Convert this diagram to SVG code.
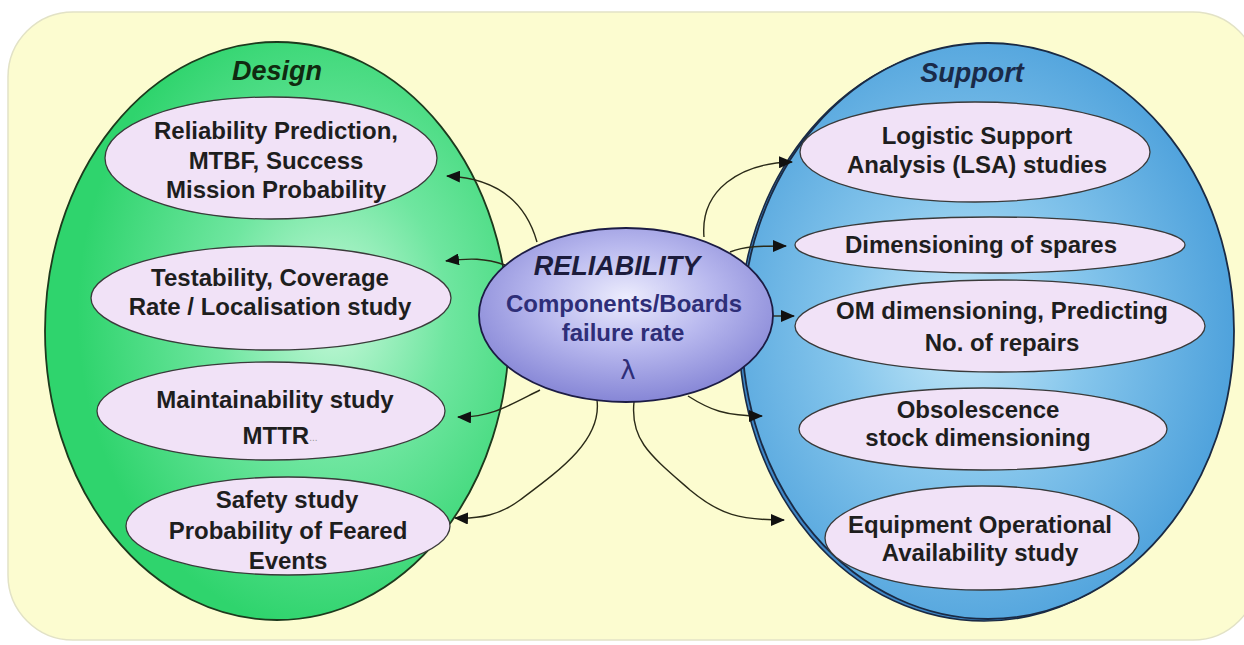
<svg xmlns="http://www.w3.org/2000/svg" width="1244" height="645" viewBox="0 0 1244 645">
<defs>
<radialGradient id="gGreen" cx="0.62" cy="0.47" r="0.55">
<stop offset="0" stop-color="#c6f8da"/>
<stop offset="0.45" stop-color="#6fe6a0"/>
<stop offset="1" stop-color="#2fd46d"/>
</radialGradient>
<radialGradient id="gBlue" cx="0.45" cy="0.5" r="0.55">
<stop offset="0" stop-color="#c4e8f8"/>
<stop offset="0.45" stop-color="#86c6ec"/>
<stop offset="1" stop-color="#4fa2dc"/>
</radialGradient>
<radialGradient id="gRel" cx="0.5" cy="0.4" r="0.6">
<stop offset="0" stop-color="#ececfd"/>
<stop offset="0.5" stop-color="#b8b8ee"/>
<stop offset="1" stop-color="#8686d6"/>
</radialGradient>
<marker id="arr" markerWidth="14" markerHeight="12" refX="13" refY="6" orient="auto" markerUnits="userSpaceOnUse">
<path d="M0,0 L14,6 L0,12 Z" fill="#111"/>
</marker>
<style>
.sub{fill:#f1e2f7;stroke:#3a3a3a;stroke-width:1.3}
.t{font-family:"Liberation Sans",Arial,sans-serif;font-weight:bold;font-size:24px;fill:#1e1e1e;text-anchor:middle;dominant-baseline:middle}
.h{font-family:"Liberation Sans",Arial,sans-serif;font-weight:bold;font-style:italic;font-size:27px;text-anchor:middle;dominant-baseline:middle}
.c{fill:none;stroke:#2a2a18;stroke-width:1.4;marker-end:url(#arr)}
.rel{font-family:"Liberation Sans",Arial,sans-serif;font-weight:bold;font-size:24px;fill:#2e2e78;text-anchor:middle;dominant-baseline:middle}
</style>
</defs>
<rect x="8" y="12" width="1250" height="628" rx="65" fill="#fcfcd0" stroke="#e2e2c6" stroke-width="1.5"/>
<g id="design">
<ellipse cx="277" cy="331" rx="232" ry="289" fill="url(#gGreen)" stroke="#1d3a1d" stroke-width="1.8"/>
<text class="h" x="277" y="73" fill="#102a10">Design</text>
</g>
<g id="support">
<ellipse cx="984" cy="333" rx="245" ry="288" fill="#3f86c6" stroke="#1a2a44" stroke-width="1.6"/>
<ellipse cx="988" cy="331" rx="246" ry="288" fill="url(#gBlue)" stroke="#1a2a44" stroke-width="1.8"/>
<text class="h" x="972" y="75" fill="#1a2a48">Support</text>
</g>
<g id="d1">
<ellipse class="sub" cx="271" cy="158" rx="166" ry="61"/>
<text class="t" x="276" y="133">Reliability Prediction,</text>
<text class="t" x="276" y="163">MTBF, Success</text>
<text class="t" x="276" y="192">Mission Probability</text>
</g>
<g id="d2">
<ellipse class="sub" cx="271" cy="298" rx="180" ry="52"/>
<text class="t" x="270" y="280">Testability, Coverage</text>
<text class="t" x="270" y="309">Rate / Localisation study</text>
</g>
<g id="d3">
<ellipse class="sub" cx="271" cy="411" rx="174" ry="49"/>
<text class="t" x="275" y="402">Maintainability study</text>
<text class="t" x="280" y="438">MTTR<tspan font-size="10" fill="#999" font-weight="normal">...</tspan></text>
</g>
<g id="d4">
<ellipse class="sub" cx="288" cy="526" rx="162" ry="49"/>
<text class="t" x="287" y="502">Safety study</text>
<text class="t" x="288" y="533">Probability of Feared</text>
<text class="t" x="288" y="563">Events</text>
</g>
<g id="s1">
<ellipse class="sub" cx="975" cy="152" rx="175" ry="50"/>
<text class="t" x="977" y="138">Logistic Support</text>
<text class="t" x="977" y="167">Analysis (LSA) studies</text>
</g>
<g id="s2">
<ellipse class="sub" cx="990" cy="245" rx="195" ry="28"/>
<text class="t" x="981" y="247">Dimensioning of spares</text>
</g>
<g id="s3">
<ellipse class="sub" cx="1000" cy="326" rx="205" ry="46"/>
<text class="t" x="1002" y="313">OM dimensioning, Predicting</text>
<text class="t" x="1002" y="345">No. of repairs</text>
</g>
<g id="s4">
<ellipse class="sub" cx="983" cy="429" rx="184" ry="41"/>
<text class="t" x="978" y="412">Obsolescence</text>
<text class="t" x="978" y="440">stock dimensioning</text>
</g>
<g id="s5">
<ellipse class="sub" cx="982" cy="538" rx="157" ry="52"/>
<text class="t" x="980" y="527">Equipment Operational</text>
<text class="t" x="980" y="555">Availability study</text>
</g>
<g id="connectors">
<path class="c" d="M537,242 C525,200 495,178 447,176"/>
<path class="c" d="M505,265 C485,258 470,258 446,261"/>
<path class="c" d="M540,390 C510,405 490,418 458,417"/>
<path class="c" d="M597,400 C602,440 560,470 520,500 C500,515 480,519 455,518"/>
<path class="c" d="M704,237 C700,190 740,163 792,162"/>
<path class="c" d="M730,252 C745,246 760,246 786,246"/>
<path class="c" d="M771,316 L794,316"/>
<path class="c" d="M688,396 C710,410 725,416 762,416"/>
<path class="c" d="M634,402 C630,440 650,455 690,490 C720,515 740,520 784,520"/>
</g>
<g id="reliability">
<ellipse cx="626" cy="315" rx="147" ry="87" fill="url(#gRel)" stroke="#1c1c44" stroke-width="1.8"/>
<text class="h" x="617" y="268" font-size="22" fill="#1c1c3c">RELIABILITY</text>
<text class="rel" x="624" y="306">Components/Boards</text>
<text class="rel" x="623" y="335">failure rate</text>
<text x="628" y="371" font-family="'DejaVu Sans',sans-serif" font-size="26" fill="#2e2e78" text-anchor="middle" dominant-baseline="middle">λ</text>
</g>
</svg>
